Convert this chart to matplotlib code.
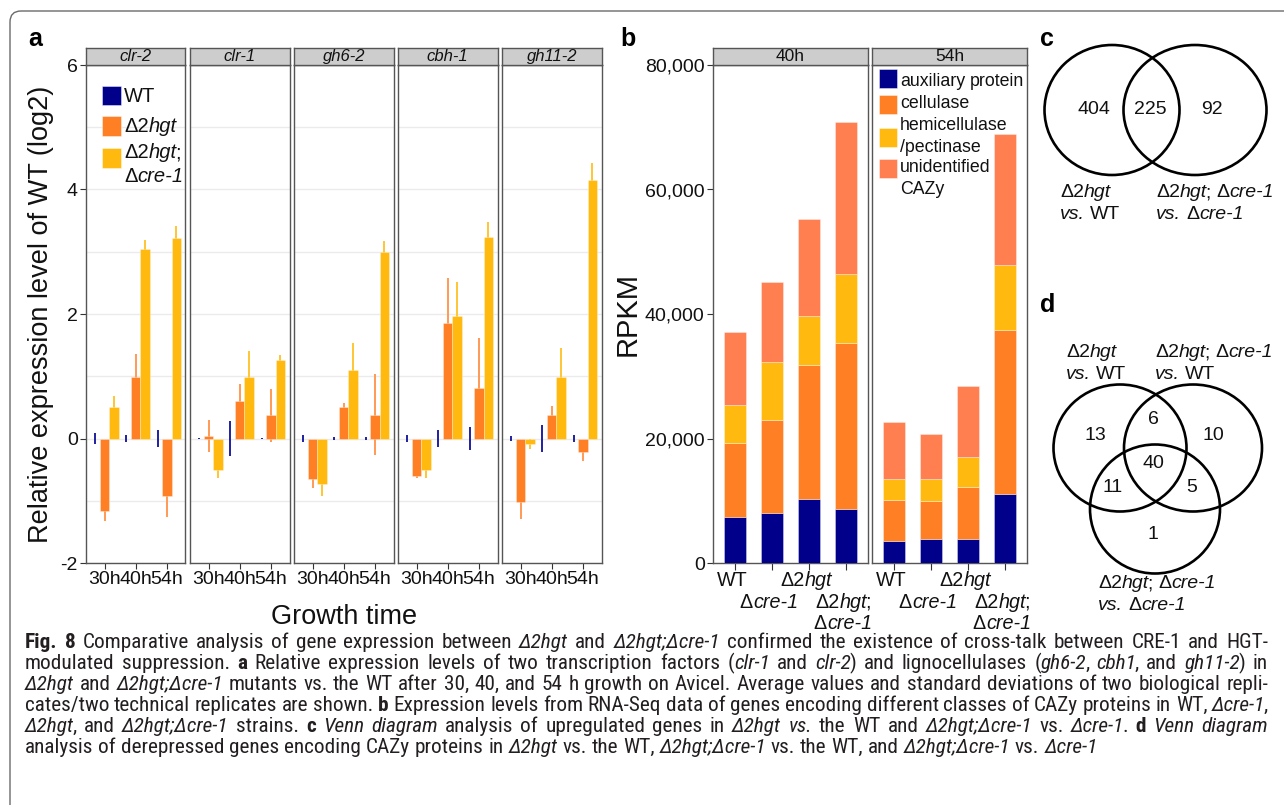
import numpy as np
import matplotlib
matplotlib.use('Agg')
import matplotlib.pyplot as plt
from matplotlib.patches import Rectangle, Ellipse, FancyBboxPatch
from matplotlib.font_manager import FontProperties, findfont

# ---------------- data ----------------
genes = ['clr-2', 'clr-1', 'gh6-2', 'cbh-1', 'gh11-2']
times = ['30h', '40h', '54h']
strains_a = ['WT', 'Δ2*hgt*', 'Δ2*hgt*;\nΔ*cre-1*']

wt_mean = [[0, 0, 0], [0, 0, 0], [0, 0, 0], [0, 0, 0], [0, 0, 0]]
wt_sd = [[0.09, 0.05, 0.13], [0.01, 0.28, 0.01], [0.06, 0.03, 0.03],
         [0.06, 0.13, 0.18], [0.04, 0.22, 0.06]]
hgt_mean = [[-1.16, 0.98, -0.92], [0.04, 0.60, 0.37], [-0.65, 0.50, 0.38],
            [-0.61, 1.86, 0.81], [-1.02, 0.38, -0.22]]
hgt_sd = [[0.16, 0.37, 0.34], [0.25, 0.27, 0.42], [0.15, 0.07, 0.65],
          [0.02, 0.72, 0.80], [0.28, 0.15, 0.14]]
dbl_mean = [[0.51, 3.05, 3.22], [-0.51, 0.99, 1.26], [-0.73, 1.10, 2.99],
            [-0.50, 1.97, 3.24], [-0.09, 0.99, 4.15]]
dbl_sd = [[0.18, 0.14, 0.19], [0.13, 0.42, 0.08], [0.19, 0.44, 0.19],
          [0.14, 0.54, 0.23], [0.08, 0.46, 0.28]]
a_yticks = [-2, 0, 2, 4, 6]

facets_b = ['40h', '54h']
strains_b = ['WT', 'Δ*cre-1*', 'Δ2*hgt*', 'Δ2*hgt*;\nΔ*cre-1*']
classes_b = ['auxiliary protein', 'cellulase', 'hemicellulase\n/pectinase', 'unidentified\nCAZy']
# RPKM per class: [facet][class][strain]
rpkm = [
    [[7330, 7970, 10280, 8610],
     [11950, 14940, 21580, 26670],
     [6150, 9430, 7870, 11150],
     [11680, 12800, 15530, 24350]],
    [[3530, 3900, 3850, 11020],
     [6530, 6000, 8410, 26350],
     [3480, 3590, 4820, 10550],
     [9110, 7230, 11350, 21000]],
]
b_yticks = [0, 20000, 40000, 60000, 80000]

venn_c_counts = [404, 225, 92]
venn_c_labels = ['Δ2*hgt*\n*vs.* WT', 'Δ2*hgt*; Δ*cre-1*\n*vs.* Δ*cre-1*']
venn_d_counts = [13, 6, 10, 40, 11, 5, 1]
venn_d_labels = ['Δ2*hgt*\n*vs.* WT', 'Δ2*hgt*; Δ*cre-1*\n*vs.* WT', 'Δ2*hgt*; Δ*cre-1*\n*vs.* Δ*cre-1*']

caption = [
    "#Fig. 8#  Comparative analysis of gene expression between *Δ2hgt* and *Δ2hgt;Δcre-1* confirmed the existence of cross-talk between CRE-1 and HGT-",
    "modulated suppression. #a# Relative expression levels of two transcription factors (*clr-1* and *clr-2*) and lignocellulases (*gh6-2*, *cbh1*, and *gh11-2*) in",
    "*Δ2hgt* and *Δ2hgt;Δcre-1* mutants vs. the WT after 30, 40, and 54 h growth on Avicel. Average values and standard deviations of two biological repli-",
    "cates/two technical replicates are shown. #b# Expression levels from RNA-Seq data of genes encoding different classes of CAZy proteins in WT, *Δcre-1*,",
    "*Δ2hgt*, and *Δ2hgt;Δcre-1* strains. #c# *Venn diagram* analysis of upregulated genes in *Δ2hgt vs.* the WT and *Δ2hgt;Δcre-1* vs. *Δcre-1*. #d# *Venn diagram*",
    "analysis of derepressed genes encoding CAZy proteins in *Δ2hgt* vs. the WT, *Δ2hgt;Δcre-1* vs. the WT, and *Δ2hgt;Δcre-1* vs. *Δcre-1*",
]

# ---------------- style ----------------
NAVY = '#00008B'
ORANGE = '#FF7F24'
YELLOW = '#FFB90F'
CORAL = '#FF7F50'
ERR = {'WT': '#2020A0', 'hgt': '#FF9A55', 'dbl': '#FFC535'}
PF = 'Liberation Sans'
TXT = '#111111'
SPINE = '#555555'


def pick_font(cands):
    for c in cands:
        try:
            findfont(FontProperties(family=c), fallback_to_default=False)
            return c
        except Exception:
            continue
    return 'DejaVu Sans'


CF = pick_font(['Liberation Sans Narrow', 'Roboto Condensed', 'Open Sans Condensed',
                'Noto Sans Condensed', 'Roboto'])

W, H = 1284, 805
fig = plt.figure(figsize=(W / 100, H / 100), dpi=100)
renderer = fig.canvas.get_renderer()


def rect(x0, y0, x1, y1):
    return [x0 / W, 1 - y1 / H, (x1 - x0) / W, (y1 - y0) / H]


ov = fig.add_axes([0, 0, 1, 1], zorder=50)
ov.set_xlim(0, W)
ov.set_ylim(H, 0)
ov.axis('off')
ov.patch.set_alpha(0)

_fp_cache = {}


def fprop(family, style, size):
    key = (family, style, size)
    if key not in _fp_cache:
        _fp_cache[key] = FontProperties(family=[family, 'DejaVu Sans'],
                                        style='italic' if style == 'i' else 'normal',
                                        weight='bold' if style == 'b' else 'normal',
                                        size=size)
    return _fp_cache[key]


def parse(s):
    out, style, buf = [], 'r', ''
    for ch in s:
        if ch in '*#':
            if buf:
                out.append((buf, style))
                buf = ''
            tgt = 'i' if ch == '*' else 'b'
            style = 'r' if style == tgt else tgt
        else:
            buf += ch
    if buf:
        out.append((buf, style))
    return out


def tw(text, f):
    w, h, d = renderer.get_text_width_height_descent(text, f, ismath=False)
    return w


def adv(text, f):
    return tw('H' + text + 'H', f) - tw('HH', f)


def words_of(s):
    pieces = parse(s)
    words, cur = [], []
    for text, st in pieces:
        parts = text.split(' ')
        for j, p in enumerate(parts):
            if j > 0:
                if cur:
                    words.append(cur)
                cur = []
            if p:
                cur.append((p, st))
    if cur:
        words.append(cur)
    return words


def kern(prev, cur):
    return -1.5 if (prev == 'i' and cur != 'i') else 0.0


def word_width(word, family, size):
    w = 0
    for j, (t, st) in enumerate(word):
        if j > 0:
            w += kern(word[j - 1][1], st)
        w += adv(t, fprop(family, st, size))
    return w


def space_w(family, size):
    f = fprop(family, 'r', size)
    return tw('H H', f) - tw('HH', f)


def draw_line(x, y, s, size, family=PF, ha='left', color=TXT, justify=None):
    words = words_of(s)
    ws = [word_width(w, family, size) for w in words]
    sp = space_w(family, size)
    total = sum(ws) + sp * (len(words) - 1)
    gap = sp
    if justify is not None and len(words) > 1:
        gap = (justify - sum(ws)) / (len(words) - 1)
        total = justify
    if ha == 'center':
        x = x - total / 2
    elif ha == 'right':
        x = x - total
    cx = x
    for w, wwid in zip(words, ws):
        px = cx
        for j, (t, st) in enumerate(w):
            if j > 0:
                px += kern(w[j - 1][1], st)
            f = fprop(family, st, size)
            ov.text(px, y, t, fontproperties=f, ha='left', va='baseline', color=color)
            px += adv(t, f)
        cx += wwid + gap
    return total


def draw_multiline(x, y_first, s, size, lh, family=PF, ha='left', color=TXT):
    for k, line in enumerate(s.split('\n')):
        draw_line(x, y_first + k * lh, line, size, family, ha, color)


# ---------------- frame ----------------
ov.add_patch(FancyBboxPatch((10, 11), W + 30, H + 30,
                            boxstyle='round,pad=0,rounding_size=11',
                            fill=False, ec='#6a6a6a', lw=1.0, clip_on=False))

# panel letters
for lab, (lx, ly) in zip('abcd', [(28, 46), (620, 46), (1040, 46), (1040, 312)]):
    ov.text(lx, ly, lab, fontproperties=fprop(PF, 'b', 18), color='#000000',
            ha='left', va='baseline')

# ---------------- panel a ----------------
a_left, a_w, a_gap = 86, 99.5, 4.5
a_top, a_bot = 65, 563
series = [(wt_mean, wt_sd, NAVY, ERR['WT'], 0.0),
          (hgt_mean, hgt_sd, ORANGE, ERR['hgt'], 0.6),
          (dbl_mean, dbl_sd, YELLOW, ERR['dbl'], 0.6)]
bw = 0.3
for gi, gene in enumerate(genes):
    x0 = a_left + gi * (a_w + a_gap)
    ax = fig.add_axes(rect(x0, a_top, x0 + a_w, a_bot))
    xs = np.arange(1, len(times) + 1)
    for k, (m, sd, col, ecol, elw) in enumerate(series):
        xk = xs + (k - 1) * bw
        mm = np.array(m[gi])
        ss = np.array(sd[gi])
        ax.vlines(xk, mm - ss, mm + ss, color=ecol, lw=1.4, zorder=2)
        ax.bar(xk, mm, width=bw, color=col, edgecolor=(1, 1, 1, 0.35) if elw else 'none',
               lw=elw, zorder=3)
    ax.set_xlim(0.4, 3.6)
    ax.set_ylim(-2, 6)
    ax.set_yticks(a_yticks)
    ax.set_yticks([-1, 1, 3, 5], minor=True)
    ax.grid(True, which='both', axis='y', color='#EBEBEB', lw=1.0, zorder=0)
    ax.set_axisbelow(True)
    ax.set_xticks(xs)
    ax.set_xticklabels(times, fontproperties=fprop(PF, 'r', 14), color=TXT)
    ax.tick_params(axis='x', length=4, color='#333333', pad=2)
    ax.tick_params(axis='y', which='minor', length=0)
    if gi == 0:
        ax.set_yticklabels([str(t) for t in a_yticks], fontproperties=fprop(PF, 'r', 14), color=TXT)
        ax.tick_params(axis='y', which='major', length=4, color='#333333', pad=2)
    else:
        ax.tick_params(axis='y', which='major', length=0, labelleft=False)
    for s in ax.spines.values():
        s.set_color(SPINE)
        s.set_linewidth(1.0)
    st = fig.add_axes(rect(x0, 48, x0 + a_w, a_top))
    st.set_facecolor('#CDCDCD')
    st.set_xticks([]); st.set_yticks([])
    for s in st.spines.values():
        s.set_color(SPINE)
        s.set_linewidth(1.0)
    draw_line(x0 + a_w / 2, 61, '*' + gene + '*', 12, ha='center')

# panel a legend
leg_cols = [NAVY, ORANGE, YELLOW]
leg_boxes = [(86, 105), (116, 136), (148, 168)]
leg_text_y = [[101.5], [132], [158.5, 181.5]]
for col, (yt, yb), ys, lab in zip(leg_cols, leg_boxes, leg_text_y, strains_a):
    ov.add_patch(Rectangle((102, yt), 19, yb - yt, fc=col, ec=(1, 1, 1, 0.5), lw=0.6))
    for yy, line in zip(ys, lab.split('\n')):
        draw_line(124, yy, line, 14.5)

ov.text(41, 314, 'Relative expression level of WT (log2)', rotation=90,
        fontproperties=fprop(PF, 'r', 19.5), ha='center', va='center', color=TXT)
ov.text(344, 617, 'Growth time', fontproperties=fprop(PF, 'r', 19.5),
        ha='center', va='center', color=TXT)

# ---------------- panel b ----------------
b_facets_x = [(713, 868), (872, 1027)]
cls_cols = [NAVY, ORANGE, YELLOW, CORAL]
for fi, (fx0, fx1) in enumerate(b_facets_x):
    bx = fig.add_axes(rect(fx0, a_top, fx1, a_bot))
    xs = np.arange(1, len(strains_b) + 1)
    bottom = np.zeros(len(strains_b))
    for ci, col in enumerate(cls_cols):
        vals = np.array(rpkm[fi][ci])
        bx.bar(xs, vals, width=0.6, bottom=bottom, color=col,
               edgecolor=(1, 1, 1, 0.35), lw=0.7, zorder=3)
        bottom = bottom + vals
    bx.set_xlim(0.4, 4.6)
    bx.set_ylim(0, 80000)
    bx.set_xticks(xs)
    bx.set_xticklabels([])
    bx.tick_params(axis='x', length=5, color='#333333')
    bx.set_yticks(b_yticks)
    if fi == 0:
        bx.set_yticklabels([f'{v:,}' for v in b_yticks], fontproperties=fprop(PF, 'r', 14), color=TXT)
        bx.tick_params(axis='y', length=4, color='#333333', pad=2)
    else:
        bx.tick_params(axis='y', length=0, labelleft=False)
    for s in bx.spines.values():
        s.set_color(SPINE)
        s.set_linewidth(1.0)
    st = fig.add_axes(rect(fx0, 48, fx1, a_top))
    st.set_facecolor('#CDCDCD')
    st.set_xticks([]); st.set_yticks([])
    for s in st.spines.values():
        s.set_color(SPINE)
        s.set_linewidth(1.0)
    draw_line((fx0 + fx1) / 2, 61, facets_b[fi], 12.5, ha='center')
    rows0 = [0, 1, 0, 1]
    for i, lab in enumerate(strains_b):
        xpx = bx.transData.transform((xs[i], 0))[0] - 3
        for k, line in enumerate(lab.split('\n')):
            draw_line(xpx, 586 + (rows0[i] + k) * 21.5, line, 14.2, ha='center')

ov.text(628, 314, 'RPKM', rotation=90, fontproperties=fprop(PF, 'r', 21),
        ha='center', va='center', color=TXT)

# panel b legend
leg_b_boxes = [(69, 88), (95, 114), (128, 147), (159, 178)]
leg_b_text = [[86], [108.5], [130, 151.5], [172.5, 194]]
for col, (yt, yb), ys, lab in zip(cls_cols, leg_b_boxes, leg_b_text, classes_b):
    ov.add_patch(Rectangle((879, yt), 18, yb - yt, fc=col, ec=(1, 1, 1, 0.5), lw=0.6, zorder=5))
    for yy, line in zip(ys, lab.split('\n')):
        draw_line(900, yy, line, 12.8)

# ---------------- panel c ----------------
for (cx, cy, ew, eh) in [(1112, 110, 135, 130), (1195, 110, 143, 130)]:
    ov.add_patch(Ellipse((cx, cy), ew, eh, fill=False, ec='black', lw=1.9))
for (tx, ty), n in zip([(1094, 110), (1150, 110), (1212, 110)], venn_c_counts):
    ov.text(tx, ty, str(n), fontproperties=fprop(PF, 'r', 14), ha='center', va='center', color=TXT)
draw_multiline(1060, 197, venn_c_labels[0], 14, 21.5)
draw_multiline(1156, 197, venn_c_labels[1], 14, 21.5)

# ---------------- panel d ----------------
for (cx, cy, ew, eh) in [(1120, 448, 133, 127), (1193, 448, 138, 127), (1155, 509, 130, 129)]:
    ov.add_patch(Ellipse((cx, cy), ew, eh, fill=False, ec='black', lw=1.9))
d_pos = [(1095, 435), (1153, 419), (1213, 435), (1153, 463), (1113, 487), (1192, 487), (1153, 534)]
for (tx, ty), n in zip(d_pos, venn_d_counts):
    ov.text(tx, ty, str(n), fontproperties=fprop(PF, 'r', 14), ha='center', va='center', color=TXT)
draw_multiline(1066, 357, venn_d_labels[0], 14, 21.5)
draw_multiline(1155, 357, venn_d_labels[1], 14, 21.5)
draw_multiline(1098, 588, venn_d_labels[2], 14, 21.5)

# ---------------- caption ----------------
cap_left, cap_right = 25, 1268
target = cap_right - cap_left
fs = 13.5
for _ in range(8):
    need = 0
    for line in caption[:-1]:
        wl = words_of(line)
        nat = sum(word_width(w, CF, fs) for w in wl) + 0.95 * space_w(CF, fs) * (len(wl) - 1)
        need = max(need, nat)
    fs = min(16.0, fs * target / need)
for k, line in enumerate(caption):
    just = target if k < len(caption) - 1 else None
    draw_line(cap_left, 648 + 21 * k, line, fs, family=CF, color='#231F20', justify=just)

fig.savefig('out.png', dpi=100, facecolor='white')
